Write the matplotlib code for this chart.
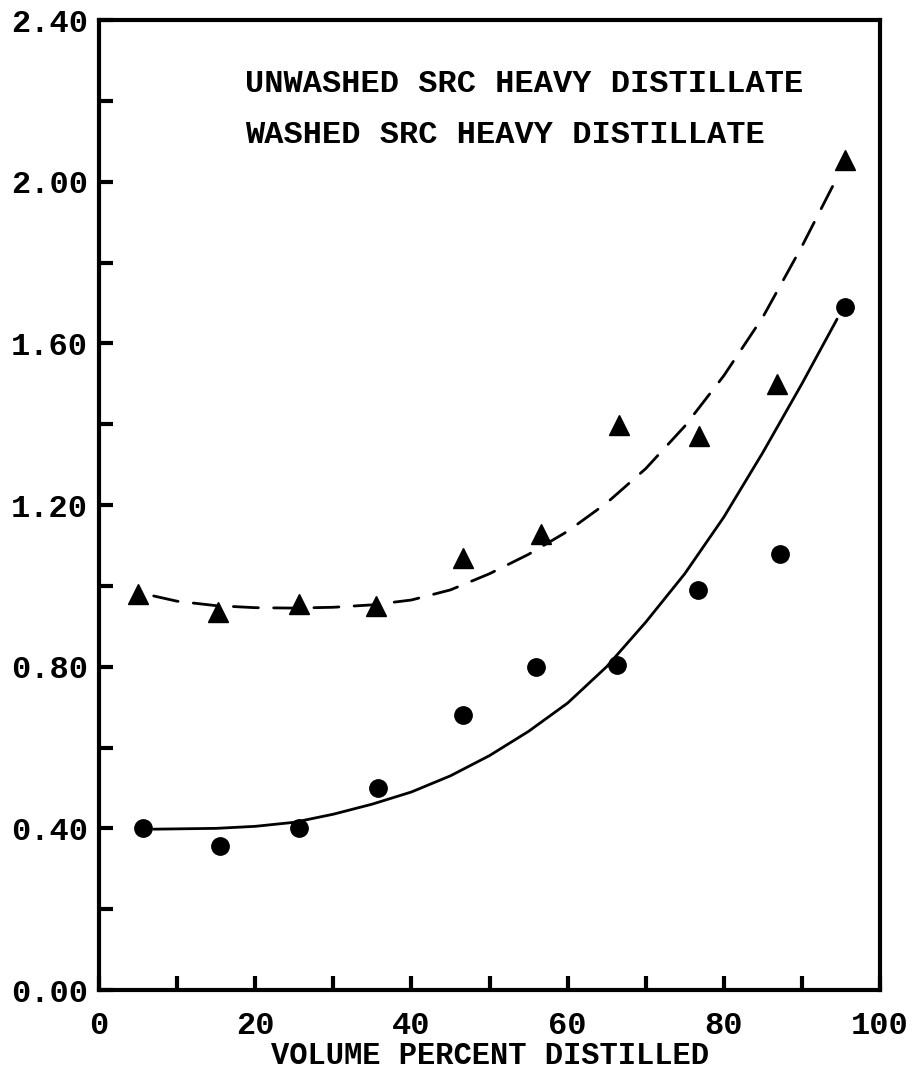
import matplotlib
matplotlib.use("Agg")
import matplotlib.pyplot as plt
from matplotlib.ticker import MultipleLocator, FixedLocator, FixedFormatter

# --- data ---
tri_x = [5.0, 15.2, 25.6, 35.5, 46.6, 56.6, 66.6, 76.8, 86.8, 95.5]
tri_y = [0.98, 0.935, 0.955, 0.95, 1.069, 1.128, 1.397, 1.37, 1.50, 2.054]

dot_x = [5.6, 15.5, 25.6, 35.7, 46.6, 56.0, 66.3, 76.7, 87.2, 95.5]
dot_y = [0.40, 0.356, 0.40, 0.50, 0.68, 0.80, 0.805, 0.99, 1.079, 1.689]

# fitted curves
dash_x = [7, 10, 15, 20, 25, 30, 35, 40, 45, 50, 55, 60, 65, 70, 75, 80, 85, 90, 94.5]
dash_y = [0.975, 0.962, 0.951, 0.946, 0.945, 0.947, 0.953, 0.965, 0.99, 1.03, 1.078,
          1.135, 1.205, 1.29, 1.395, 1.52, 1.665, 1.84, 2.01]

solid_x = [7, 15, 20, 25, 30, 35, 40, 45, 50, 55, 60, 65, 70, 75, 80, 85, 90, 94.5]
solid_y = [0.398, 0.40, 0.405, 0.415, 0.435, 0.46, 0.49, 0.53, 0.58, 0.64, 0.71,
           0.80, 0.91, 1.03, 1.17, 1.33, 1.50, 1.66]

y_ticks = [0.0, 0.4, 0.8, 1.2, 1.6, 2.0, 2.4]
y_tick_labels = ["0.00", "0.40", "0.80", "1.20", "1.60", "2.00", "2.40"]
x_ticks = [0, 20, 40, 60, 80, 100]
x_tick_labels = ["0", "20", "40", "60", "80", "100"]
legend_lines = ["UNWASHED SRC HEAVY DISTILLATE", "WASHED SRC HEAVY DISTILLATE"]
x_label = "VOLUME PERCENT DISTILLED"

FONT = "Liberation Mono"

fig = plt.figure(figsize=(9.21, 10.76), dpi=100)
ax = fig.add_axes([0.1075, 0.0799, 0.848, 0.9015])

ax.plot(dash_x, dash_y, color="black", lw=2.0, linestyle=(0, (9, 5.5)),
        dash_capstyle="round", dash_joinstyle="round")
ax.plot(solid_x, solid_y, color="black", lw=2.0, solid_capstyle="round",
        solid_joinstyle="round")
ax.plot(tri_x, tri_y, linestyle="none", marker="^", ms=15, color="black")
ax.plot(dot_x, dot_y, linestyle="none", marker="o", ms=12.5, color="black")

ax.set_xlim(0, 100)
ax.set_ylim(0, 2.4)

for s in ax.spines.values():
    s.set_linewidth(3)

ax.xaxis.set_major_locator(FixedLocator(x_ticks))
ax.xaxis.set_major_formatter(FixedFormatter(x_tick_labels))
ax.xaxis.set_minor_locator(MultipleLocator(10))
ax.yaxis.set_major_locator(FixedLocator(y_ticks))
ax.yaxis.set_major_formatter(FixedFormatter(y_tick_labels))
ax.yaxis.set_minor_locator(MultipleLocator(0.2))

ax.tick_params(axis="x", which="both", direction="in", length=10, width=3,
               pad=15, labelsize=23)
ax.tick_params(axis="y", which="both", direction="in", length=10, width=3,
               pad=8, labelsize=23)
for lab in ax.get_xticklabels() + ax.get_yticklabels():
    lab.set_fontfamily(FONT)
    lab.set_fontweight("bold")

ax.set_xlabel(x_label, fontsize=22, fontfamily=FONT, fontweight="bold", labelpad=0)

ax.text(18.7, 2.242, legend_lines[0], fontsize=23, fontfamily=FONT,
        fontweight="bold", va="center", ha="left")
ax.text(18.7, 2.116, legend_lines[1], fontsize=23, fontfamily=FONT,
        fontweight="bold", va="center", ha="left")

fig.savefig("out.png", dpi=100)
